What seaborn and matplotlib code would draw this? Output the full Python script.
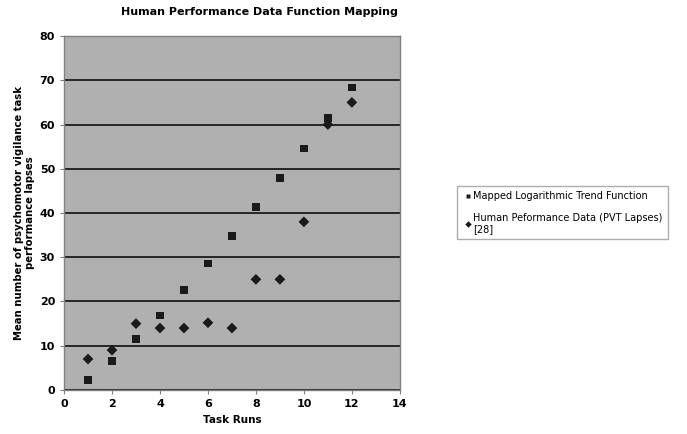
import matplotlib
matplotlib.use("Agg")
import matplotlib.pyplot as plt
import seaborn as sns
import pandas as pd

task_runs = [1, 2, 3, 4, 5, 6, 7, 8, 9, 10, 11, 12]
mapped_trend = [2.3, 6.6, 11.5, 16.8, 22.6, 28.6, 34.8, 41.3, 47.9, 54.6, 61.5, 68.4]
human_pvt = [7, 9, 15, 14, 14, 15.2, 14, 25, 25, 38, 60, 65]

series_names = ["Mapped Logarithmic Trend Function",
                "Human Peformance Data (PVT Lapses)\n[28]"]

df = pd.concat([
    pd.DataFrame({"x": task_runs, "y": mapped_trend, "series": series_names[0]}),
    pd.DataFrame({"x": task_runs, "y": human_pvt, "series": series_names[1]}),
])

sns.set_style("white")
plt.rcParams["font.family"] = ["DejaVu Sans"]
plt.rcParams["text.color"] = "black"
plt.rcParams["axes.labelcolor"] = "black"
plt.rcParams["xtick.color"] = "black"
plt.rcParams["ytick.color"] = "black"

fig = plt.figure(figsize=(6.87, 4.34), dpi=100)
ax = fig.add_axes([0.0932, 0.1014, 0.4888, 0.8156])
ax.set_facecolor("#b0b0b0")

sns.scatterplot(data=df, x="x", y="y", hue="series", style="series",
                markers={series_names[0]: "s", series_names[1]: "D"},
                palette={series_names[0]: "#1a1a1a", series_names[1]: "#1a1a1a"},
                s=30, edgecolor="none", ax=ax, zorder=3)

ax.set_xlim(0, 14)
ax.set_ylim(0, 80)
ax.set_xticks(range(0, 15, 2))
ax.set_yticks(range(0, 81, 10))
ax.yaxis.grid(True, color="black", linewidth=1.1)
ax.set_axisbelow(True)
for sp in ax.spines.values():
    sp.set_color("#808080")
    sp.set_linewidth(1.0)
ax.tick_params(axis="both", labelsize=8, length=3, color="#808080", direction="out",
               left=True, bottom=True, labelcolor="black")
for lab in ax.get_xticklabels() + ax.get_yticklabels():
    lab.set_fontweight("bold")

ax.set_xlabel("Task Runs", fontsize=7.5, fontweight="bold", labelpad=4)
ax.set_ylabel("Mean number of psychomotor vigilance task\nperformance lapses",
              fontsize=7.3, fontweight="bold", labelpad=0)
ax.yaxis.set_label_coords(-0.085, 0.5)

fig.suptitle("Human Performance Data Function Mapping", x=0.378, y=0.985,
             fontsize=8, fontweight="bold")

handles, labels = ax.get_legend_handles_labels()
ax.legend(handles=handles, labels=labels, loc="upper left",
          bbox_to_anchor=(0.665, 0.571), bbox_transform=fig.transFigure,
          frameon=True, fancybox=False, edgecolor="#999999", fontsize=7,
          handletextpad=0.0, markerscale=0.6, labelspacing=1.2, borderpad=0.5,
          handlelength=1.2, borderaxespad=0)

fig.savefig("out.png", dpi=100)
